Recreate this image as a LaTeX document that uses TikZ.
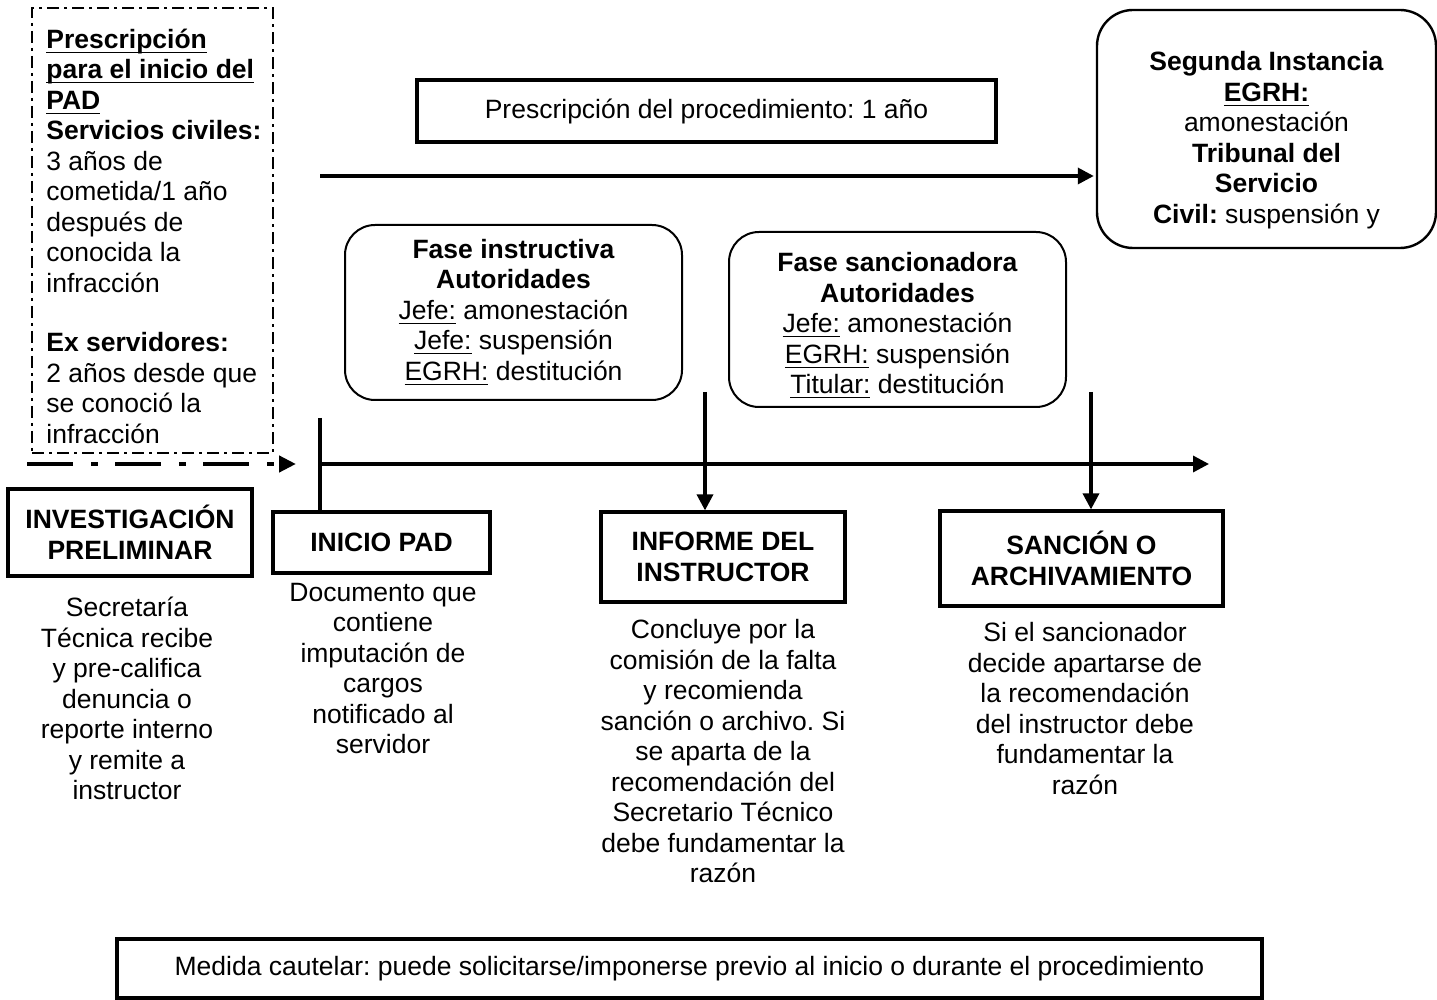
\documentclass[tikz,border=0pt]{standalone}
\usepackage{fontspec}
\setmainfont{Liberation Sans}
\usepackage{amsmath}
\usetikzlibrary{arrows.meta}
\frenchspacing

\newcommand{\subrayar}[1]{\underline{\smash{#1}}}

\tikzset{
  txt/.style={font=\fontsize{13.25}{15.25}\selectfont, align=center, inner sep=0pt},
  caja/.style={txt, rectangle, draw, line width=1.6pt},
  cajar/.style={txt, rectangle, draw, line width=1pt, rounded corners=15pt},
  flecha/.style={line width=1.7pt, -{Triangle[length=8pt,width=8pt]}},
  linea/.style={line width=1.7pt},
}

\begin{document}
\begin{tikzpicture}[x=0.5pt, y=-0.5pt]
\useasboundingbox (0,0) rectangle (1437,1000);

% prescripcion para el inicio del PAD
\node[draw, line width=1pt, dash pattern=on 6pt off 2.5pt on 1.5pt off 2.5pt,
  minimum width=120.5pt, minimum height=222.5pt, inner sep=0pt] (Marco) at (152.5,230.5) {};
\node[txt, align=left, anchor=west] (Pres) at (46,246) {
\textbf{\subrayar{Prescripción}}\\
\textbf{\subrayar{para el inicio del}}\\
\textbf{\subrayar{PAD}}\\
\textbf{Servicios civiles:}\\
3 años de\\
cometida/1 año\\
después de\\
conocida la\\
infracción\\[14.5pt]
\textbf{Ex servidores:}\\
2 años desde que\\
se conoció la\\
infracción
};

% cajas superiores
\node[caja] (Proc) at (706.5,111) [minimum width=289.5pt, minimum height=31pt]
  {Prescripción del procedimiento: 1 año};
\node[cajar, rounded corners=18pt, line width=1.2pt, minimum width=169.5pt, minimum height=119pt] (Seg) at (1266.5,129) {
\rule{0pt}{21pt}\textbf{Segunda Instancia}\\
\textbf{\subrayar{EGRH:}}\\
amonestación\\
\textbf{Tribunal del}\\
\textbf{Servicio}\\
\textbf{Civil:} suspensión y
};
\node[cajar, minimum width=168.5pt, minimum height=87.5pt] (FaseI) at (513.5,312.5) {
\textbf{Fase instructiva}\\
\textbf{Autoridades}\\
\subrayar{Jefe:} amonestación\\
\subrayar{Jefe:} suspensión\\
\subrayar{EGRH:} destitución
};
\node[cajar, minimum width=168.5pt, minimum height=87.5pt] (FaseS) at (897.5,319.5) {
\rule{0pt}{16pt}\textbf{Fase sancionadora}\\
\textbf{Autoridades}\\
\subrayar{Jefe:} amonestación\\
\subrayar{EGRH:} suspensión\\
\subrayar{Titular:} destitución
};

% etapas
\node[caja, minimum width=122pt, minimum height=43.5pt] (Inv) at (130,532.5)
  {\textbf{INVESTIGACIÓN}\\\textbf{PRELIMINAR}};
\node[caja, minimum width=108.5pt, minimum height=30.5pt] (Pad) at (381.5,542.5)
  {\textbf{INICIO PAD}};
\node[caja, minimum width=122pt, minimum height=45pt] (Inf) at (723,557)
  {\textbf{INFORME DEL}\\\textbf{INSTRUCTOR}};
\node[caja, minimum width=141.5pt, minimum height=47.5pt] (San) at (1081.5,558.5)
  {\textbf{SANCIÓN O}\\\textbf{ARCHIVAMIENTO}};

% descripciones
\node[txt] (DInv) at (127,698.5) {Secretaría\\Técnica recibe\\y pre-califica\\denuncia o\\reporte interno\\y remite a\\instructor};
\node[txt] (DPad) at (383,668.5) {Documento que\\contiene\\imputación de\\cargos\\notificado al\\servidor};
\node[txt] (DInf) at (723,751.5) {Concluye por la\\comisión de la falta\\y recomienda\\sanción o archivo. Si\\se aparta de la\\recomendación del\\Secretario Técnico\\debe fundamentar la\\razón};
\node[txt] (DSan) at (1085,708.5) {Si el sancionador\\decide apartarse de\\la recomendación\\del instructor debe\\fundamentar la\\razón};

\node[caja, minimum width=572.5pt, minimum height=29.5pt] (Med) at (689.5,968.5)
  {Medida cautelar: puede solicitarse/imponerse previo al inicio o durante el procedimiento};

% lineas y flechas
\coordinate (d0) at (27,464);
\coordinate (d1) at (296,464);
\coordinate (t0) at (320,464);
\coordinate (t1) at (1209,464);
\coordinate (p0) at (320,176);
\coordinate (v0) at (320,418);
\coordinate (v1) at (705,392);
\coordinate (v2) at (1091,392);

\draw[line width=2.4pt, dash pattern=on 23pt off 9pt on 3.5pt off 8.5pt,
  -{Triangle[length=8.5pt,width=8pt]}] (d0) -- (d1);
\draw[flecha] (t0) -- (t1);
\draw[flecha] (p0) -- ([xshift=-1pt]p0 -| Seg.west);
\draw[linea] (v0) -- (v0 |- Pad.north);
\draw[flecha] (v1) -- (v1 |- Inf.north);
\draw[flecha] (v2) -- (v2 |- San.north);
\end{tikzpicture}
\end{document}
